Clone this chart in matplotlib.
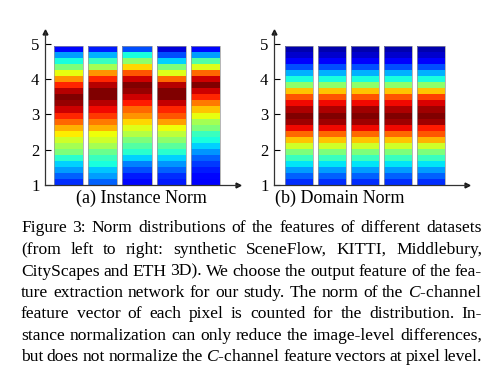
import numpy as np
import matplotlib
matplotlib.use('Agg')
from matplotlib import pyplot as plt

plt.rcParams['font.family'] = 'Liberation Serif'
plt.rcParams['mathtext.fontset'] = 'custom'
plt.rcParams['mathtext.it'] = 'Liberation Serif:italic'
plt.rcParams['mathtext.rm'] = 'Liberation Serif'

# norm value bins (bottom -> top), one colour value (0..1, jet) per bin
n_bins = 23
y_lo, y_hi = 1.0, 4.94

# Instance Norm, 5 datasets
inst_1 = [0.17, 0.22, 0.28, 0.33, 0.40, 0.50, 0.55, 0.60, 0.66, 0.72, 0.80, 0.87, 0.93, 0.98, 1.00, 0.95, 0.87, 0.75, 0.63, 0.50, 0.38, 0.28, 0.13]
inst_2 = [0.22, 0.28, 0.32, 0.38, 0.42, 0.48, 0.55, 0.60, 0.64, 0.72, 0.78, 0.85, 0.90, 0.95, 1.00, 1.00, 0.95, 0.87, 0.75, 0.55, 0.42, 0.30, 0.15]
inst_3 = [0.13, 0.15, 0.20, 0.25, 0.33, 0.40, 0.45, 0.50, 0.57, 0.62, 0.68, 0.75, 0.80, 0.88, 0.93, 0.98, 1.00, 0.93, 0.82, 0.68, 0.52, 0.38, 0.20]
inst_4 = [0.15, 0.17, 0.22, 0.27, 0.33, 0.40, 0.46, 0.52, 0.58, 0.64, 0.74, 0.82, 0.87, 0.94, 1.00, 1.00, 0.95, 0.80, 0.62, 0.50, 0.33, 0.20, 0.08]
inst_5 = [0.12, 0.13, 0.15, 0.18, 0.22, 0.27, 0.33, 0.38, 0.42, 0.50, 0.55, 0.63, 0.70, 0.78, 0.87, 0.93, 1.00, 0.93, 0.80, 0.62, 0.45, 0.28, 0.13]

# Domain Norm, 5 datasets
dom_1 = [0.17, 0.22, 0.28, 0.35, 0.42, 0.50, 0.60, 0.70, 0.80, 0.90, 0.97, 1.00, 0.96, 0.90, 0.82, 0.70, 0.52, 0.38, 0.30, 0.20, 0.12, 0.07, 0.04]
dom_2 = [0.17, 0.22, 0.28, 0.35, 0.42, 0.50, 0.60, 0.70, 0.80, 0.90, 0.97, 1.00, 0.96, 0.90, 0.82, 0.70, 0.52, 0.38, 0.30, 0.20, 0.12, 0.07, 0.04]
dom_3 = [0.17, 0.22, 0.28, 0.35, 0.42, 0.50, 0.60, 0.70, 0.80, 0.90, 0.97, 1.00, 0.97, 0.90, 0.82, 0.70, 0.52, 0.38, 0.30, 0.20, 0.12, 0.07, 0.04]
dom_4 = [0.17, 0.22, 0.28, 0.35, 0.42, 0.50, 0.60, 0.70, 0.80, 0.90, 0.97, 1.00, 0.96, 0.90, 0.82, 0.70, 0.52, 0.38, 0.30, 0.20, 0.12, 0.07, 0.04]
dom_5 = [0.17, 0.22, 0.28, 0.35, 0.42, 0.50, 0.60, 0.72, 0.82, 0.88, 0.97, 1.00, 0.97, 0.92, 0.84, 0.70, 0.52, 0.38, 0.30, 0.20, 0.12, 0.07, 0.04]

inst = [inst_1, inst_2, inst_3, inst_4, inst_5]
dom = [dom_1, dom_2, dom_3, dom_4, dom_5]
sub_titles = ['(a) Instance Norm', '(b) Domain Norm']
y_ticks = [1, 2, 3, 4, 5]

caption = [
    'Figure 3: Norm distributions of the features of different datasets',
    '(from left to right:  synthetic SceneFlow, KITTI, Middlebury,',
    'CityScapes and ETH 3D). We choose the output feature of the fea-',
    'ture extraction network for our study. The norm of the $C$-channel',
    'feature vector of each pixel is counted for the distribution.  In-',
    'stance normalization can only reduce the image-level differences,',
    'but does not normalize the $C$-channel feature vectors at pixel level.',
]

W, H = 502, 381
fig = plt.figure(figsize=(W / 100, H / 100), dpi=100)
jet = plt.get_cmap('jet')
edges = np.linspace(y_lo, y_hi, n_bins + 1)


def panel(left_px, xlim, data, title, title_x):
    ax = fig.add_axes([left_px / W, (H - 185) / H, 193 / W, 153 / H])
    for i, vals in enumerate(data):
        ax.bar(np.full(n_bins, i), np.diff(edges), bottom=edges[:-1], width=0.85,
               color=jet(np.array(vals)), edgecolor='none')
        ax.bar(i, y_hi - y_lo, bottom=y_lo, width=0.85, fill=False,
               edgecolor='0.6', lw=0.5)
    ax.set_xlim(xlim)
    ax.set_ylim(1, 5.34)
    ax.set_yticks(y_ticks)
    ax.set_xticks([])
    ax.tick_params(axis='y', direction='in', length=4, width=0.8, labelsize=12, pad=4)
    for s in ['top', 'right']:
        ax.spines[s].set_visible(False)
    for s in ['left', 'bottom']:
        ax.spines[s].set_linewidth(0.9)
        ax.spines[s].set_color('0.2')
    ax.plot(0, 1, '^', color='0.1', ms=3.5, transform=ax.transAxes, clip_on=False)
    ax.plot(1, 0, '>', color='0.1', ms=3.5, transform=ax.transAxes, clip_on=False)
    fig.text(title_x / W, 1 - 198 / H, title, ha='center', va='center', fontsize=13)
    return ax


panel(45, (-0.686, 4.95), inst, sub_titles[0], 141)
panel(274, (-0.758, 5.09), dom, sub_titles[1], 340)

# justified caption, baselines in px from top
fig.canvas.draw()
r = fig.canvas.get_renderer()
x0, x1 = 21, 482
line_y = [232.5, 254, 275.5, 297, 318, 339.5, 361]
for line, ly in zip(caption, line_y):
    words = line.split()
    texts = [fig.text(0, 1 - ly / H, w, fontsize=12.6, va='baseline', ha='left') for w in words]
    widths = [t.get_window_extent(r).width for t in texts]
    gap = (x1 - x0 - sum(widths)) / (len(words) - 1)
    x = x0
    for t, w in zip(texts, widths):
        t.set_x(x / W)
        x += w + gap

fig.savefig('out.png', dpi=100)
